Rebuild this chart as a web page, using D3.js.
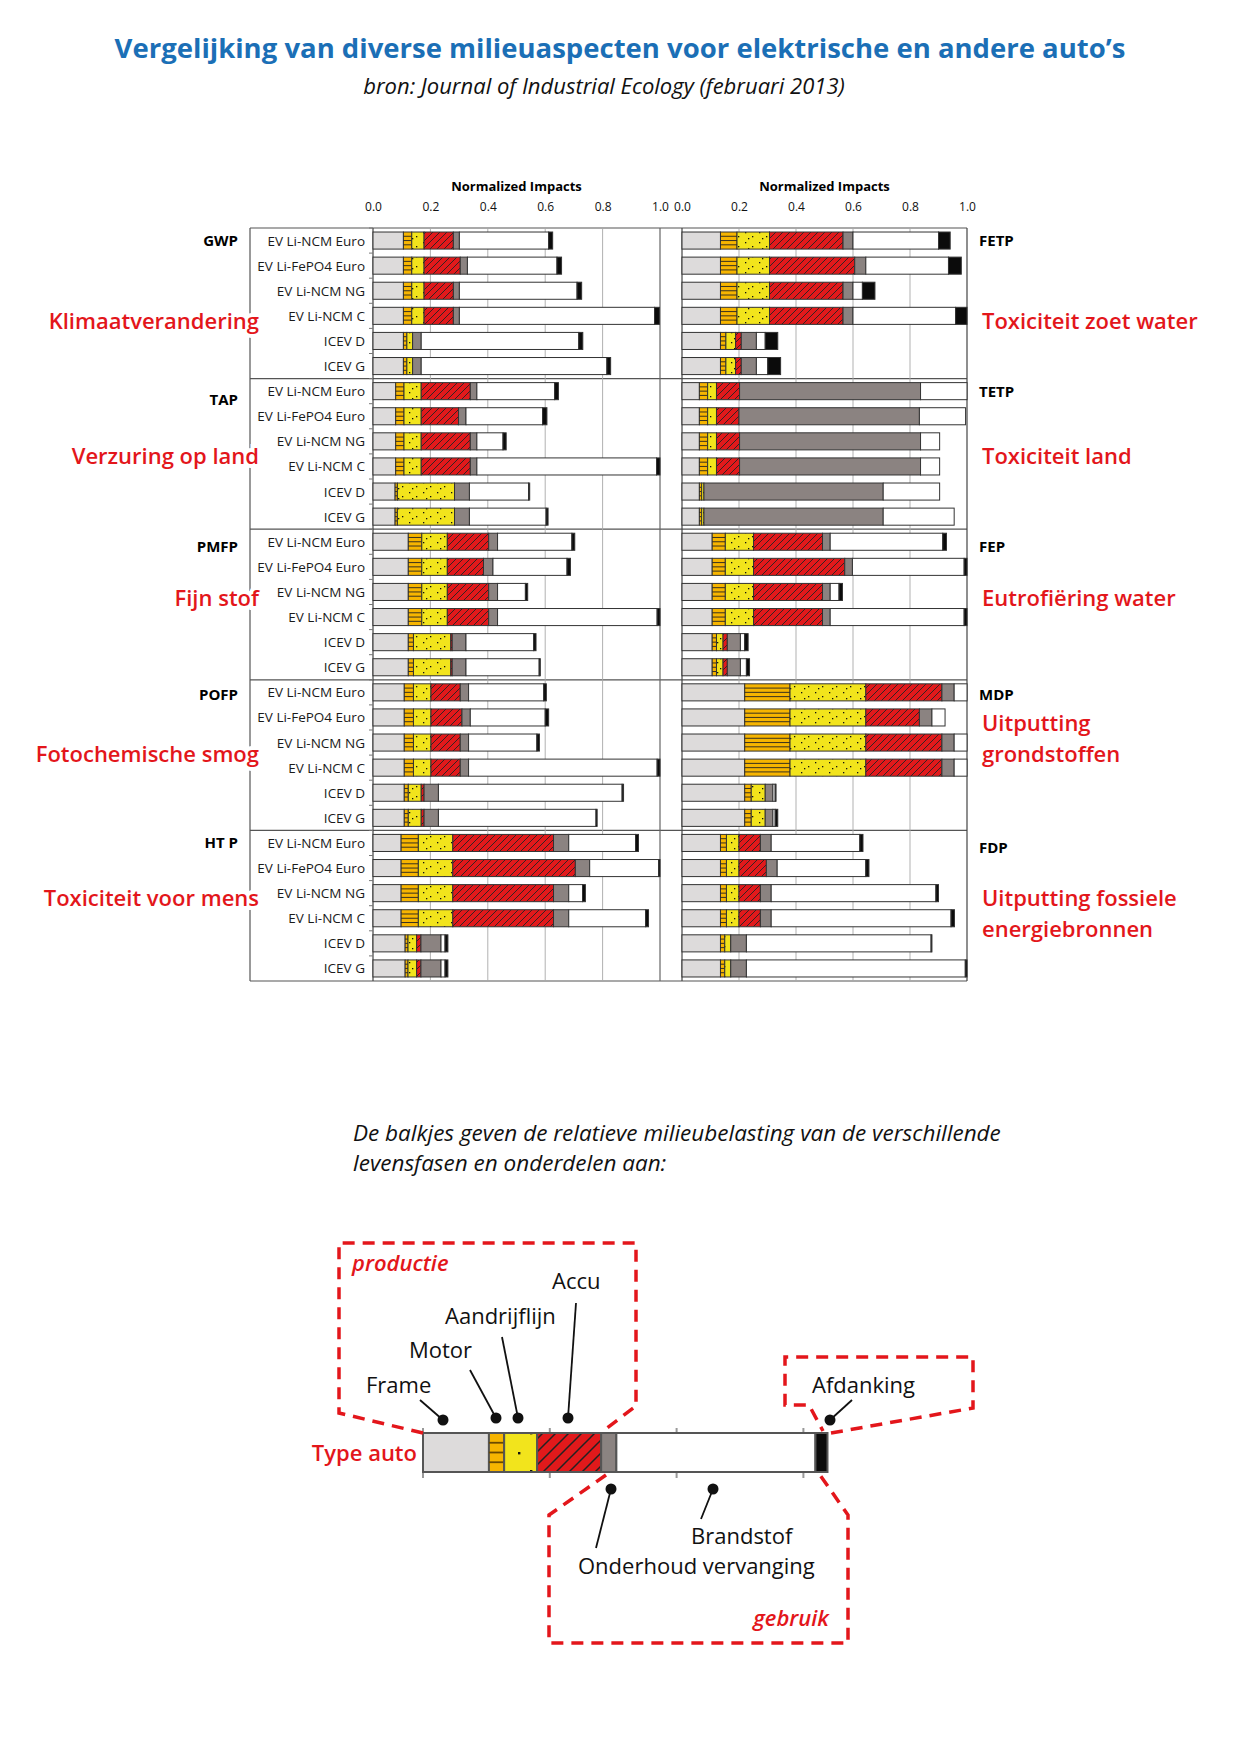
<!DOCTYPE html>
<html>
<head>
<meta charset="utf-8">
<script src="https://cdn.jsdelivr.net/npm/d3@7"></script>
<style>
  body { margin: 0; background: #fff; }
  svg { display: block; }
</style>
</head>
<body>
<div id="chart"></div>
<script>
// rows per indicator (same order in every block)
const carTypes = ["EV Li-NCM Euro", "EV Li-FePO4 Euro", "EV Li-NCM NG", "EV Li-NCM C", "ICEV D", "ICEV G"];
// frame, motor, aandrijflijn, accu, onderhoud, brandstof, afdanking
const segKeys = ["frame", "motor", "aandrijflijn", "accu", "onderhoud", "brandstof", "afdanking"];

// left column
const gwp = [
  [0.106, 0.029, 0.043, 0.102, 0.021, 0.311, 0.014],
  [0.106, 0.029, 0.043, 0.126, 0.025, 0.312, 0.016],
  [0.106, 0.029, 0.043, 0.102, 0.021, 0.410, 0.016],
  [0.106, 0.029, 0.043, 0.102, 0.021, 0.680, 0.017],
  [0.106, 0.012, 0.020, 0.000, 0.030, 0.549, 0.014],
  [0.106, 0.012, 0.020, 0.000, 0.030, 0.647, 0.013]
];
const tap = [
  [0.079, 0.029, 0.060, 0.171, 0.023, 0.271, 0.013],
  [0.079, 0.029, 0.060, 0.130, 0.026, 0.267, 0.015],
  [0.079, 0.029, 0.060, 0.171, 0.023, 0.091, 0.011],
  [0.079, 0.029, 0.060, 0.171, 0.023, 0.626, 0.012],
  [0.077, 0.008, 0.199, 0.000, 0.052, 0.206, 0.004],
  [0.077, 0.008, 0.199, 0.000, 0.052, 0.267, 0.007]
];
const pmfp = [
  [0.123, 0.047, 0.089, 0.144, 0.031, 0.259, 0.010],
  [0.123, 0.047, 0.089, 0.126, 0.033, 0.258, 0.012],
  [0.123, 0.047, 0.089, 0.144, 0.031, 0.097, 0.008],
  [0.123, 0.047, 0.089, 0.144, 0.031, 0.556, 0.010],
  [0.123, 0.018, 0.130, 0.005, 0.048, 0.236, 0.008],
  [0.123, 0.018, 0.130, 0.005, 0.048, 0.255, 0.004]
];
const pofp = [
  [0.109, 0.032, 0.061, 0.102, 0.029, 0.262, 0.009],
  [0.109, 0.032, 0.061, 0.108, 0.029, 0.261, 0.012],
  [0.109, 0.032, 0.061, 0.102, 0.029, 0.238, 0.009],
  [0.109, 0.032, 0.061, 0.102, 0.029, 0.657, 0.010],
  [0.109, 0.014, 0.045, 0.010, 0.050, 0.640, 0.005],
  [0.109, 0.014, 0.045, 0.010, 0.050, 0.549, 0.004]
];
const htp = [
  [0.098, 0.060, 0.120, 0.351, 0.053, 0.233, 0.010],
  [0.098, 0.060, 0.120, 0.427, 0.050, 0.240, 0.005],
  [0.098, 0.060, 0.120, 0.351, 0.053, 0.048, 0.010],
  [0.098, 0.060, 0.120, 0.351, 0.053, 0.268, 0.010],
  [0.112, 0.010, 0.030, 0.015, 0.070, 0.014, 0.010],
  [0.112, 0.010, 0.030, 0.015, 0.070, 0.014, 0.010]
];

// right column
const fetp = [
  [0.135, 0.058, 0.114, 0.258, 0.035, 0.300, 0.041],
  [0.135, 0.058, 0.114, 0.299, 0.039, 0.290, 0.045],
  [0.135, 0.058, 0.114, 0.258, 0.035, 0.033, 0.044],
  [0.135, 0.058, 0.114, 0.258, 0.035, 0.360, 0.040],
  [0.135, 0.019, 0.034, 0.020, 0.053, 0.031, 0.044],
  [0.135, 0.019, 0.034, 0.020, 0.053, 0.040, 0.045]
];
const tetp = [
  [0.061, 0.029, 0.031, 0.081, 0.635, 0.163, 0.000],
  [0.061, 0.029, 0.031, 0.079, 0.633, 0.162, 0.000],
  [0.061, 0.029, 0.031, 0.081, 0.635, 0.067, 0.000],
  [0.061, 0.029, 0.031, 0.081, 0.635, 0.067, 0.000],
  [0.061, 0.008, 0.008, 0.000, 0.629, 0.198, 0.000],
  [0.061, 0.008, 0.008, 0.000, 0.629, 0.249, 0.000]
];
const fep = [
  [0.106, 0.046, 0.099, 0.242, 0.027, 0.395, 0.013],
  [0.106, 0.046, 0.099, 0.320, 0.027, 0.392, 0.010],
  [0.106, 0.046, 0.099, 0.242, 0.027, 0.031, 0.012],
  [0.106, 0.046, 0.099, 0.242, 0.027, 0.470, 0.010],
  [0.106, 0.015, 0.023, 0.015, 0.046, 0.015, 0.012],
  [0.106, 0.015, 0.023, 0.015, 0.046, 0.021, 0.011]
];
const mdp = [
  [0.220, 0.159, 0.266, 0.267, 0.043, 0.045, 0.000],
  [0.220, 0.159, 0.266, 0.188, 0.044, 0.046, 0.000],
  [0.220, 0.159, 0.266, 0.267, 0.043, 0.045, 0.000],
  [0.220, 0.159, 0.266, 0.267, 0.043, 0.045, 0.000],
  [0.220, 0.023, 0.049, 0.000, 0.027, 0.008, 0.003],
  [0.220, 0.023, 0.049, 0.000, 0.027, 0.008, 0.009]
];
const fdp = [
  [0.135, 0.021, 0.044, 0.075, 0.038, 0.311, 0.011],
  [0.135, 0.021, 0.044, 0.096, 0.038, 0.311, 0.011],
  [0.135, 0.021, 0.044, 0.075, 0.038, 0.578, 0.009],
  [0.135, 0.021, 0.044, 0.075, 0.038, 0.631, 0.012],
  [0.135, 0.015, 0.021, 0.000, 0.055, 0.648, 0.003],
  [0.135, 0.015, 0.021, 0.000, 0.055, 0.768, 0.006]
];

const leftCodes = ["GWP", "TAP", "PMFP", "POFP", "HT P"];
const leftNames = [["Klimaatverandering"], ["Verzuring op land"], ["Fijn stof"], ["Fotochemische smog"], ["Toxiciteit voor mens"]];
const rightCodes = ["FETP", "TETP", "FEP", "MDP", "FDP"];
const rightNames = [["Toxiciteit zoet water"], ["Toxiciteit land"], ["Eutrofiëring water"], ["Uitputting", "grondstoffen"], ["Uitputting fossiele", "energiebronnen"]];
const tickVals = [0, 0.2, 0.4, 0.6, 0.8, 1.0];

// the explained example bar
const legendBar = [0.104, 0.024, 0.052, 0.101, 0.024, 0.314, 0.019];
const legendParts = ["Frame", "Motor", "Aandrijflijn", "Accu", "Onderhoud vervanging", "Brandstof", "Afdanking"];

const width = 1240, height = 1754;
const red = "#e3161b";

const svg = d3.select("#chart").append("svg")
    .attr("width", width)
    .attr("height", height)
    .style("font-family", "'Open Sans', sans-serif");

// patterns
const defs = svg.append("defs");
function dotPattern(id, w, h, dots, r) {
  const p = defs.append("pattern").attr("id", id).attr("patternUnits", "userSpaceOnUse")
      .attr("width", w).attr("height", h);
  p.append("rect").attr("width", w).attr("height", h).attr("fill", "#f2e41c");
  dots.forEach(d => p.append("rect").attr("x", d[0]).attr("y", d[1]).attr("width", r).attr("height", r).attr("fill", "#111"));
}
function hatchPattern(id, s, sw) {
  const p = defs.append("pattern").attr("id", id).attr("patternUnits", "userSpaceOnUse")
      .attr("width", s).attr("height", s);
  p.append("rect").attr("width", s).attr("height", s).attr("fill", "#e2191b");
  p.append("path")
      .attr("d", `M0,${s} L${s},0 M${-s / 2},${s / 2} L${s / 2},${-s / 2} M${s / 2},${s * 1.5} L${s * 1.5},${s / 2}`)
      .attr("stroke", "#222").attr("stroke-width", sw);
}
dotPattern("dots", 14, 10, [[3, 2], [10, 6], [6, 8]], 1.3);
hatchPattern("hatch", 7, 0.9);
dotPattern("dotsL", 30, 38, [[8, 8], [20, 26]], 2.4);
hatchPattern("hatchL", 13, 1.5);

const fills = {
  frame: "#dddbdb", motor: "#f7b500", aandrijflijn: "url(#dots)", accu: "url(#hatch)",
  onderhoud: "#8b8381", brandstof: "#ffffff", afdanking: "#0b0b0b"
};

// title
svg.append("text").attr("x", 620).attr("y", 58).attr("text-anchor", "middle")
    .attr("font-size", 27.5).attr("font-weight", 700).attr("fill", "#1b6fb6")
    .text("Vergelijking van diverse milieuaspecten voor elektrische en andere auto’s");
svg.append("text").attr("x", 604).attr("y", 94).attr("text-anchor", "middle")
    .attr("font-size", 22).attr("font-style", "italic").attr("fill", "#111")
    .text("bron: Journal of Industrial Ecology (februari 2013)");

// scales
const plotTop = 228, plotBottom = 981;
const nRows = 30;
const y = d3.scaleBand().domain(d3.range(nRows)).range([plotTop, plotBottom])
    .paddingInner(0.32).paddingOuter(0.16);
const xL = d3.scaleLinear().domain([0, 1]).range([373, 660]);
const xR = d3.scaleLinear().domain([0, 1]).range([682, 967]);

function stackRows(blocks) {
  const rows = [];
  blocks.forEach(b => b.forEach(v => {
    const o = {};
    segKeys.forEach((k, j) => o[k] = v[j]);
    rows.push(o);
  }));
  return d3.stack().keys(segKeys)(rows);
}

function drawGrid(x, last) {
  const g = svg.append("g");
  g.selectAll("line.grid").data([0.2, 0.4, 0.6, 0.8]).join("line")
      .attr("x1", d => x(d)).attr("x2", d => x(d))
      .attr("y1", plotTop).attr("y2", plotBottom)
      .attr("stroke", "#a8a8a8").attr("stroke-width", 0.9);
  g.selectAll("line.edge").data([0, 1]).join("line")
      .attr("x1", d => x(d)).attr("x2", d => x(d))
      .attr("y1", plotTop).attr("y2", plotBottom)
      .attr("stroke", d => d === 0 ? "#444" : (last ? "#444" : "#666"))
      .attr("stroke-width", 1.2);
  // axis on top
  const ax = svg.append("g").attr("transform", `translate(0, ${plotTop - 14})`)
      .call(d3.axisTop(x).tickValues(tickVals).tickFormat(d3.format(".1f")).tickSize(0));
  ax.select(".domain").remove();
  ax.selectAll("text").attr("font-size", 12).attr("font-family", "'Open Sans', sans-serif").attr("fill", "#111");
  svg.append("text").attr("x", (x(0) + x(1)) / 2).attr("y", plotTop - 37)
      .attr("text-anchor", "middle").attr("font-size", 13).attr("font-weight", 700)
      .text("Normalized Impacts");
}

function drawBars(blocks, x) {
  const series = stackRows(blocks);
  const bh = y.bandwidth();
  series.forEach(s => {
    const g = svg.append("g");
    const parts = s.map((d, i) => ({ x0: d[0], x1: d[1], i }))
        .filter(d => x(d.x1) - x(d.x0) > 0.2);
    g.selectAll("rect").data(parts).join("rect")
        .attr("x", d => x(d.x0)).attr("y", d => y(d.i))
        .attr("width", d => x(d.x1) - x(d.x0)).attr("height", bh)
        .attr("fill", fills[s.key]).attr("stroke", "#333").attr("stroke-width", 1);
    if (s.key === "motor") {
      parts.forEach(d => {
        [0.25, 0.5, 0.75].forEach(f => {
          g.append("line").attr("x1", x(d.x0)).attr("x2", x(d.x1))
              .attr("y1", y(d.i) + bh * f).attr("y2", y(d.i) + bh * f)
              .attr("stroke", "#222").attr("stroke-width", 0.9);
        });
      });
    }
  });
}

// frame lines
const frame = svg.append("g").attr("stroke", "#555").attr("stroke-width", 1.2);
frame.append("line").attr("x1", 250).attr("x2", 250).attr("y1", plotTop).attr("y2", plotBottom);
[0, 6, 12, 18, 24].forEach(r => {
  frame.append("line").attr("x1", 250).attr("x2", xR(1))
      .attr("y1", y(r) - y.step() * y.paddingInner() / 2).attr("y2", y(r) - y.step() * y.paddingInner() / 2);
});
frame.append("line").attr("x1", 250).attr("x2", xR(1)).attr("y1", plotBottom).attr("y2", plotBottom);

drawGrid(xL, false);
drawGrid(xR, true);

// small ticks on left axis between rows
svg.append("g").selectAll("line").data(d3.range(nRows)).join("line")
    .attr("x1", xL(0) - 4).attr("x2", xL(0))
    .attr("y1", d => y(d) - y.step() * y.paddingInner() / 2)
    .attr("y2", d => y(d) - y.step() * y.paddingInner() / 2)
    .attr("stroke", "#777").attr("stroke-width", 1);

drawBars([gwp, tap, pmfp, pofp, htp], xL);
drawBars([fetp, tetp, fep, mdp, fdp], xR);

// category labels
svg.append("g").selectAll("text").data(d3.range(nRows)).join("text")
    .attr("x", 365).attr("y", d => y(d) + y.bandwidth() / 2 + 5)
    .attr("text-anchor", "end").attr("font-size", 13.5).attr("fill", "#1a1a1a")
    .text(d => carTypes[d % 6]);

// indicator codes
const leftShift = [0, 0.35, 0.2, 0.1, 0];
const rightShift = [0, 0, 0.2, 0.1, 0.2];
leftCodes.forEach((c, i) => {
  svg.append("text").attr("x", 238).attr("y", y(i * 6) + y.bandwidth() / 2 + 5.5 + leftShift[i] * y.step())
      .attr("text-anchor", "end").attr("font-size", 15).attr("font-weight", 700).text(c);
});
rightCodes.forEach((c, i) => {
  svg.append("text").attr("x", 979).attr("y", y(i * 6) + y.bandwidth() / 2 + 5.5 + rightShift[i] * y.step())
      .attr("font-size", 15).attr("font-weight", 700).text(c);
});

// red descriptions
const leftNameY = [321, 456, 598, 754, 898];
const rightNameY = [321, 456, 598, 723, 898];
leftNames.forEach((lines, i) => {
  const t = svg.append("text").attr("x", 259).attr("y", leftNameY[i] + 8)
      .attr("text-anchor", "end").attr("font-size", 22).attr("font-weight", 600).attr("fill", red)
      .attr("stroke", "#fff").attr("stroke-width", 8).attr("paint-order", "stroke");
  lines.forEach((l, j) => t.append("tspan").attr("x", 259).attr("dy", j ? 31 : 0).text(l));
});
rightNames.forEach((lines, i) => {
  const t = svg.append("text").attr("x", 982).attr("y", rightNameY[i] + 8)
      .attr("font-size", 22).attr("font-weight", 600).attr("fill", red);
  lines.forEach((l, j) => t.append("tspan").attr("x", 982).attr("dy", j ? 31 : 0).text(l));
});

// ---- explanation ----
const expl = svg.append("text").attr("x", 353).attr("y", 1141)
    .attr("font-size", 22.5).attr("font-style", "italic").attr("fill", "#111");
expl.append("tspan").attr("x", 353).text("De balkjes geven de relatieve milieubelasting van de verschillende");
expl.append("tspan").attr("x", 353).attr("dy", 30).text("levensfasen en onderdelen aan:");

const lx = d3.scaleLinear().domain([0, 1]).range([423, 423 + 634]);
const lyTop = 1433, lh = 39;

// little ticks behind the example bar
svg.append("g").selectAll("line").data([0, 0.2, 0.4, 0.6]).join("line")
    .attr("x1", d => lx(d)).attr("x2", d => lx(d))
    .attr("y1", lyTop - 5).attr("y2", lyTop + lh + 6)
    .attr("stroke", "#999").attr("stroke-width", 2);

const legendFills = Object.assign({}, fills, { aandrijflijn: "url(#dotsL)", accu: "url(#hatchL)" });
const lstack = d3.stack().keys(segKeys)([Object.fromEntries(segKeys.map((k, j) => [k, legendBar[j]]))]);
const lg = svg.append("g");
lstack.forEach(s => {
  const d = s[0];
  lg.append("rect").attr("x", lx(d[0])).attr("y", lyTop)
      .attr("width", lx(d[1]) - lx(d[0])).attr("height", lh)
      .attr("fill", legendFills[s.key]).attr("stroke", "#555").attr("stroke-width", 2);
  if (s.key === "motor") {
    [0.25, 0.5, 0.75].forEach(f => lg.append("line")
        .attr("x1", lx(d[0])).attr("x2", lx(d[1]))
        .attr("y1", lyTop + lh * f).attr("y2", lyTop + lh * f)
        .attr("stroke", "#6b4a00").attr("stroke-width", 1.8));
  }
});

// dashed groupings
const dash = svg.append("g").attr("fill", "none").attr("stroke", red)
    .attr("stroke-width", 3.5).attr("stroke-dasharray", "12,8");
dash.append("path").attr("d", "M423,1433 L339,1413 L339,1243 L636,1243 L636,1406 L603,1431");
dash.append("path").attr("d", "M831,1433 L973,1408 L973,1357 L785,1357 L785,1405 L809,1405 L823,1431");
dash.append("path").attr("d", "M606,1475 L549,1515 L549,1643 L848,1643 L848,1515 L820,1475");

svg.append("text").attr("x", 352).attr("y", 1271).attr("font-size", 22)
    .attr("font-style", "italic").attr("font-weight", 600).attr("fill", red).text("productie");
svg.append("text").attr("x", 829).attr("y", 1626).attr("text-anchor", "end").attr("font-size", 22)
    .attr("font-style", "italic").attr("font-weight", 600).attr("fill", red).text("gebruik");
svg.append("text").attr("x", 417).attr("y", 1461).attr("text-anchor", "end").attr("font-size", 22)
    .attr("font-weight", 600).attr("fill", red).text("Type auto");

// pointers: label position, line start, dot
const pointers = [
  { t: legendParts[0], tx: 366, ty: 1393, x1: 420, y1: 1400, x2: 443, y2: 1420 },
  { t: legendParts[1], tx: 409, ty: 1358, x1: 470, y1: 1370, x2: 496, y2: 1418 },
  { t: legendParts[2], tx: 445, ty: 1324, x1: 502, y1: 1337, x2: 518, y2: 1418 },
  { t: legendParts[3], tx: 552, ty: 1289, x1: 576, y1: 1303, x2: 568, y2: 1418 },
  { t: legendParts[6], tx: 812, ty: 1393, x1: 852, y1: 1400, x2: 830, y2: 1420 },
  { t: legendParts[4], tx: 578, ty: 1574, x1: 596, y1: 1548, x2: 611, y2: 1489 },
  { t: legendParts[5], tx: 691, ty: 1544, x1: 701, y1: 1519, x2: 713, y2: 1489 }
];
const pg = svg.append("g");
pointers.forEach(p => {
  pg.append("text").attr("x", p.tx).attr("y", p.ty).attr("font-size", 22).attr("fill", "#111").text(p.t);
  pg.append("line").attr("x1", p.x1).attr("y1", p.y1).attr("x2", p.x2).attr("y2", p.y2)
      .attr("stroke", "#111").attr("stroke-width", 1.8);
  pg.append("circle").attr("cx", p.x2).attr("cy", p.y2).attr("r", 5.5).attr("fill", "#111");
});
</script>
</body>
</html>
